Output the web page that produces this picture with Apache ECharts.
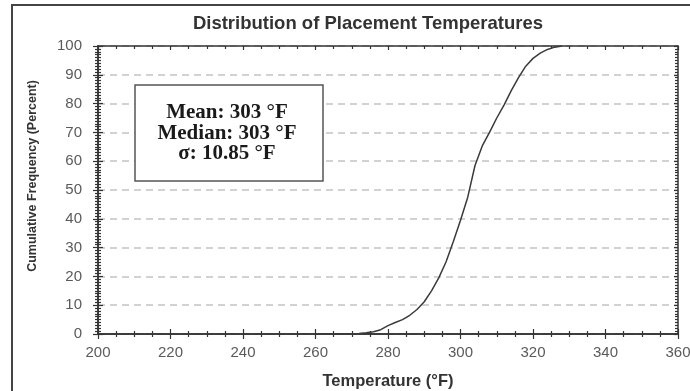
<!DOCTYPE html>
<html>
<head>
<meta charset="utf-8">
<script src="https://cdn.jsdelivr.net/npm/echarts@6/dist/echarts.min.js"></script>
<style>
  html, body { margin: 0; padding: 0; background: #fff; }
  #chart { width: 690px; height: 391px; }
</style>
</head>
<body>
<div id="chart"></div>
<script>
// Cumulative distribution of placement temperatures
const temps = [260, 262, 264, 266, 268, 270, 272, 274, 276, 278, 280, 282, 284, 286, 288, 290,
               292, 294, 296, 298, 300, 302, 304, 306, 308, 310, 312, 314, 316, 318, 320, 322,
               324, 326, 328];
const cumPct = [0, 0, 0, 0, 0, 0.1, 0.2, 0.4, 0.8, 1.5, 2.9, 4.0, 5.0, 6.5, 8.5, 11.2,
                15, 19.5, 25, 32, 39.5, 47.5, 58.5, 65.3, 70, 75, 79.5, 84.5, 89, 93, 95.7, 97.5,
                98.8, 99.6, 100];
const xTicks = { min: 200, max: 360, step: 20 };
const yTicks = { min: 0, max: 100, step: 10 };
const statLines = ['Mean: 303 °F', 'Median: 303 °F', 'σ: 10.85 °F'];

const chart = echarts.init(document.getElementById('chart'), null, { renderer: 'canvas' });

const axisLineStyle = { color: '#333', width: 1.5 };
const tickStyle = { color: '#333', width: 1.2 };
const sans = 'Liberation Sans, Arial, sans-serif';

function xAxisDef(opts) {
  return Object.assign({
    type: 'value', min: xTicks.min, max: xTicks.max, interval: xTicks.step,
    axisLine: { show: true, onZero: false, lineStyle: axisLineStyle },
    splitLine: { show: false },
    axisLabel: { show: false }
  }, opts);
}
function yAxisDef(opts) {
  return Object.assign({
    type: 'value', min: yTicks.min, max: yTicks.max, interval: yTicks.step,
    axisLine: { show: true, onZero: false, lineStyle: axisLineStyle },
    splitLine: { show: false },
    axisLabel: { show: false }
  }, opts);
}

chart.setOption({
  animation: false,
  backgroundColor: '#fff',
  title: {
    text: 'Distribution of Placement Temperatures',
    left: 363, top: 9, textAlign: 'center',
    textStyle: { fontFamily: sans, fontWeight: 'bold', fontSize: 18.5, color: '#333' }
  },
  grid: { left: 98, right: 12, top: 46, bottom: 57, outerBoundsMode: 'none', containLabel: false },
  xAxis: [
    xAxisDef({
      position: 'bottom',
      name: 'Temperature (°F)', nameLocation: 'middle', nameGap: 39,
      nameTextStyle: { fontFamily: sans, fontWeight: 'bold', fontSize: 16.5, color: '#333' },
      axisTick: { show: true, inside: false, length: 5, lineStyle: tickStyle },
      minorTick: { show: true, splitNumber: 4, length: 3, lineStyle: tickStyle },
      axisLabel: { show: true, margin: 11, fontFamily: sans, fontSize: 15, color: '#5a5a5a' }
    }),
    xAxisDef({
      position: 'bottom',
      axisTick: { show: true, inside: true, length: 5, lineStyle: tickStyle },
      minorTick: { show: true, splitNumber: 4, length: 3, lineStyle: tickStyle }
    }),
    xAxisDef({
      position: 'top',
      axisTick: { show: true, inside: true, length: 4, lineStyle: tickStyle },
      minorTick: { show: true, splitNumber: 4, length: 3, lineStyle: tickStyle }
    })
  ],
  yAxis: [
    yAxisDef({
      position: 'left',
      name: 'Cumulative Frequency (Percent)', nameLocation: 'middle', nameGap: 59,
      nameTextStyle: { fontFamily: sans, fontWeight: 'bold', fontSize: 12.5, color: '#333',
                       padding: [0, 0, 0, 28] },
      axisTick: { show: true, inside: false, length: 5, lineStyle: tickStyle },
      minorTick: { show: true, splitNumber: 10, length: 3, lineStyle: tickStyle },
      axisLabel: { show: true, margin: 16, fontFamily: sans, fontSize: 15, color: '#5a5a5a' },
      splitLine: { show: true, lineStyle: { color: '#c4c4c4', width: 1.5, type: [7, 5] } }
    }),
    yAxisDef({
      position: 'left',
      axisTick: { show: true, inside: true, length: 5, lineStyle: tickStyle },
      minorTick: { show: true, splitNumber: 10, length: 3, lineStyle: tickStyle }
    }),
    yAxisDef({
      position: 'right',
      axisTick: { show: true, inside: true, length: 4, lineStyle: tickStyle },
      minorTick: { show: true, splitNumber: 10, length: 3, lineStyle: tickStyle }
    })
  ],
  series: [{
    type: 'line',
    xAxisIndex: 0, yAxisIndex: 0,
    data: temps.map((t, i) => [t, cumPct[i]]),
    showSymbol: false,
    lineStyle: { color: '#3a3a3a', width: 1.5 },
    z: 5
  }],
  graphic: [
    {
      type: 'rect', silent: true, z: 0,
      shape: { x: 12, y: 5, width: 700, height: 420 },
      style: { fill: 'none', stroke: '#444', lineWidth: 2 }
    },
    {
      type: 'rect', silent: true, z: 10,
      shape: { x: 135, y: 85, width: 188, height: 96 },
      style: { fill: '#fff', stroke: '#555', lineWidth: 1.5 }
    },
    {
      type: 'text', silent: true, z: 11,
      x: 227, y: 133.5,
      style: {
        text: statLines.join('\n'),
        fontFamily: 'Liberation Serif, Times New Roman, serif',
        fontWeight: 'bold', fontSize: 21, lineHeight: 20.5,
        fill: '#1a1a1a', align: 'center', verticalAlign: 'middle'
      }
    }
  ]
});
</script>
</body>
</html>
